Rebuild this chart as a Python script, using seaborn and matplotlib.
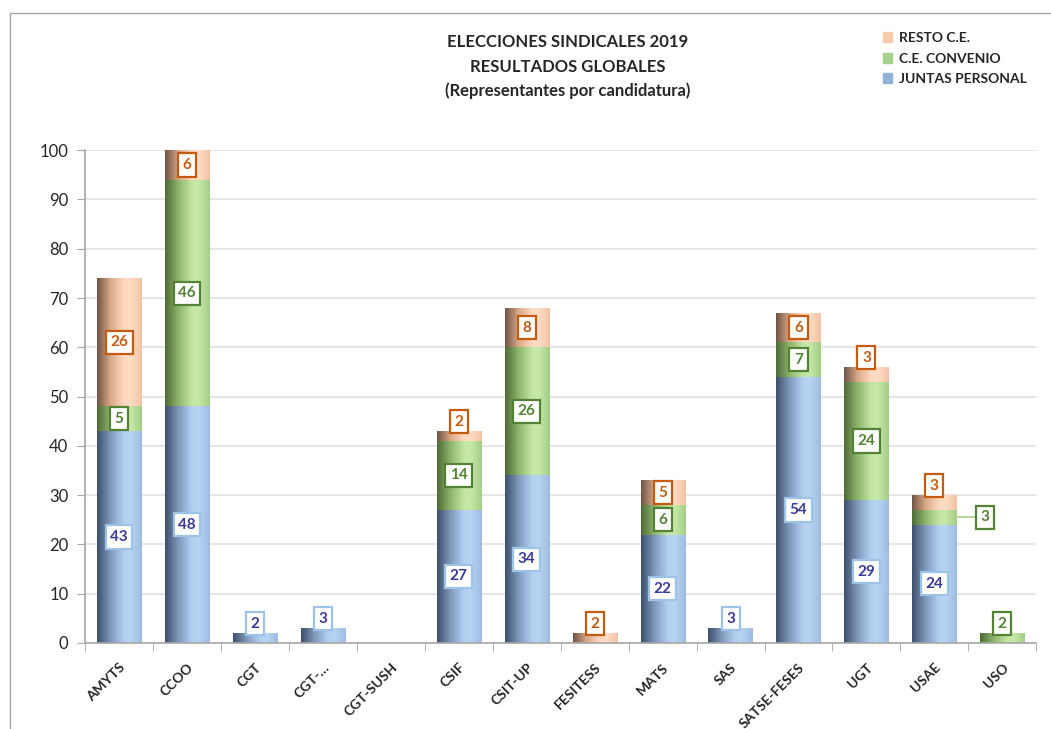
import numpy as np
import pandas as pd
import matplotlib
matplotlib.use("Agg")
import matplotlib.pyplot as plt
import seaborn as sns
from matplotlib.colors import LinearSegmentedColormap
from matplotlib.patches import Patch
from matplotlib.lines import Line2D

candidaturas = ["AMYTS", "CCOO", "CGT", "CGT-…", "CGT-SUSH", "CSIF", "CSIT-UP",
                "FESITESS", "MATS", "SAS", "SATSE-FESES", "UGT", "USAE", "USO"]
juntas = [43, 48, 2, 3, 0, 27, 34, 0, 22, 3, 54, 29, 24, 0]
convenio = [5, 46, 0, 0, 0, 14, 26, 0, 6, 0, 7, 24, 3, 2]
resto = [26, 6, 0, 0, 0, 2, 8, 2, 5, 0, 6, 3, 3, 0]

series = ["JUNTAS PERSONAL", "C.E. CONVENIO", "RESTO C.E."]
base_col = {"JUNTAS PERSONAL": "#95B3D7", "C.E. CONVENIO": "#A9D18E", "RESTO C.E.": "#F8CBAD"}
grad_col = {
    "JUNTAS PERSONAL": ["#3E506A", "#7F99BB", "#B3CFF0", "#B8D4F4", "#9FBBDF"],
    "C.E. CONVENIO": ["#4F6B36", "#8DB56C", "#C2E6A2", "#C6E9A8", "#A5CD87"],
    "RESTO C.E.": ["#6E5546", "#D9A888", "#FFD9BF", "#FFDCC4", "#F1C3A4"],
}
txt_col = {"JUNTAS PERSONAL": "#3A3A9A", "C.E. CONVENIO": "#548235", "RESTO C.E.": "#C55A11"}
box_col = {"JUNTAS PERSONAL": "#9DC3E6", "C.E. CONVENIO": "#548235", "RESTO C.E.": "#C55A11"}

df = pd.DataFrame({"cand": candidaturas, "JUNTAS PERSONAL": juntas,
                   "C.E. CONVENIO": convenio, "RESTO C.E.": resto})

sns.set_style("white")
plt.rcParams["font.family"] = ["Lato", "DejaVu Sans"]

fig = plt.figure(figsize=(10.51, 7.29), dpi=100)
ax = fig.add_axes([0.081, 0.118, 0.905, 0.676])

width = 0.65
bottoms = np.zeros(len(candidaturas))
for s in series:
    n_before = len(ax.patches)
    sns.barplot(data=df, x="cand", y=s, color=base_col[s], bottom=bottoms,
                width=width, ax=ax, saturation=1, linewidth=0, zorder=2)
    bottoms = bottoms + df[s].values
    cmap = LinearSegmentedColormap.from_list(s, list(zip([0, 0.3, 0.6, 0.75, 1.0], grad_col[s])))
    grad = np.linspace(0, 1, 200).reshape(1, -1)
    for p in ax.patches[n_before:]:
        if p.get_height() <= 0:
            continue
        x0, y0 = p.get_x(), p.get_y()
        im = ax.imshow(grad, extent=[x0, x0 + p.get_width(), y0, y0 + p.get_height()],
                       cmap=cmap, aspect="auto", zorder=2.5, interpolation="bilinear")
        im.set_clip_path(p)

ax.set_xlim(-0.5, len(candidaturas) - 0.5)
ax.set_ylim(0, 100)
ax.set_yticks(range(0, 101, 10))
ax.yaxis.grid(True, color="#E6E6E6", linewidth=1.5, zorder=0)
ax.set_axisbelow(True)
ax.set_xlabel("")
ax.set_ylabel("")
for side in ["top", "right"]:
    ax.spines[side].set_visible(False)
ax.spines["left"].set_color("#A6A6A6")
ax.spines["bottom"].set_color("#A6A6A6")
ax.spines["left"].set_linewidth(1.2)
ax.spines["bottom"].set_linewidth(1.2)
ax.tick_params(axis="y", left=True, length=6, color="#A6A6A6", labelsize=12, pad=6)
ax.set_xticks(range(len(candidaturas)))
ax.set_xticklabels(candidaturas, rotation=45, ha="right", rotation_mode="anchor",
                   fontsize=10, fontweight="bold")
ax.set_xticks(np.arange(-0.5, len(candidaturas), 1), minor=True)
ax.tick_params(axis="x", which="major", length=0, pad=13)
ax.tick_params(axis="x", which="minor", bottom=True, length=6, color="#A6A6A6")

# data labels
tops = np.array(juntas) + np.array(convenio) + np.array(resto)
low = np.zeros(len(candidaturas))
for s in series:
    vals = df[s].values
    for i, v in enumerate(vals):
        if v == 0:
            continue
        bb = dict(boxstyle="square,pad=0.3", fc="white", ec=box_col[s], lw=1.6)
        x, y = i, low[i] + v / 2
        if candidaturas[i] == "USAE" and s == "C.E. CONVENIO":
            x = i + 0.75
            ax.add_line(Line2D([i + width / 2, x - 0.15], [y, y], color="#A9D18E", lw=1.2, zorder=4))
        elif v < 5:
            y = tops[i] + 1.9
        ax.text(x, y, str(v), ha="center", va="center", fontsize=11, fontweight="bold",
                color=txt_col[s], bbox=bb, zorder=5)
    low = low + vals

fig.text(0.54, 0.942, "ELECCIONES SINDICALES 2019", ha="center", va="center",
         fontsize=12, fontweight="bold")
fig.text(0.54, 0.908, "RESULTADOS GLOBALES", ha="center", va="center",
         fontsize=12, fontweight="bold")
fig.text(0.54, 0.875, "(Representantes por candidatura)", ha="center", va="center",
         fontsize=12, fontweight="bold")

handles = [Patch(color=base_col[s], label=s) for s in series[::-1]]
leg = fig.legend(handles=handles, loc="upper left", bbox_to_anchor=(0.828, 0.973),
                 frameon=False, handlelength=0.7, handleheight=0.7, handletextpad=0.5,
                 labelspacing=0.6, prop={"weight": "bold", "size": 10})

# chart border
fig.add_artist(Line2D([0.0095, 0.0095], [0, 0.982], color="#A6A6A6", lw=1))
fig.add_artist(Line2D([0.0095, 1], [0.982, 0.982], color="#A6A6A6", lw=1))

fig.savefig("out.png", dpi=100)
